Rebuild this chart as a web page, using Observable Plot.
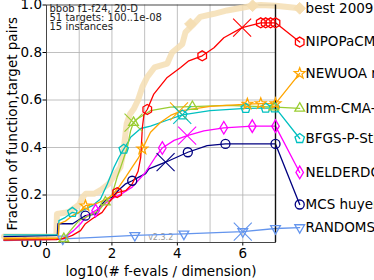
<!DOCTYPE html>
<html><head><meta charset="utf-8">
<script src="https://cdn.jsdelivr.net/npm/d3@7"></script>
<script src="https://cdn.jsdelivr.net/npm/@observablehq/plot@0.6"></script>
<style>html,body{margin:0;padding:0;background:#fff;overflow:hidden}</style>
</head><body><div id="chart"></div>
<script>
// ---------------- data ----------------
const names = ["best 2009","NIPOPaCMA","NEWUOA ros","Imm-CMA-ES","BFGS-P-StPt","NELDERDOERR","MCS huyer","RANDOMSEARCH"];

const bestX = [-1.3,0.3,0.32,0.55,0.7,1.0,1.1,1.2,1.45,1.65,1.9,2.06,2.26,2.35,2.45,2.55,2.67,2.8,2.93,3.08,3.3,3.69,3.84,4.15,4.25,4.46,4.7,5.12,5.52,6.3,6.55,7.0];
const bestY = [0.025,0.025,0.12,0.125,0.13,0.16,0.19,0.205,0.205,0.22,0.247,0.28,0.317,0.38,0.5,0.54,0.563,0.6,0.655,0.697,0.737,0.753,0.80,0.835,0.886,0.914,0.95,0.963,0.977,0.997,1.0,0.997];

const nipoX = [-1.3,0.3,0.6,0.79,1.04,1.19,1.4,1.7,1.96,2.16,2.42,2.62,2.8,2.88,2.93,2.98,3.08,3.28,3.69,4.1,4.35,4.76,5.12,5.42,5.98,6.55,7.0];
const nipoY = [0.01,0.012,0.02,0.03,0.05,0.079,0.1,0.127,0.177,0.21,0.218,0.246,0.3,0.358,0.484,0.54,0.56,0.625,0.695,0.737,0.765,0.786,0.82,0.862,0.905,0.925,0.925];

const newuX = [-1.3,0.36,0.38,0.58,0.79,0.99,1.19,1.5,1.75,2.0,2.21,2.42,2.62,2.82,2.93,3.18,3.49,3.79,4.15,5.0,6.14,6.55,7.0];
const newuY = [0.018,0.018,0.079,0.09,0.113,0.127,0.155,0.163,0.177,0.198,0.233,0.275,0.317,0.358,0.394,0.464,0.506,0.535,0.555,0.573,0.583,0.585,0.585];

const immX = [-1.3,0.53,0.73,0.99,1.3,1.6,1.8,2.0,2.16,2.3,2.47,2.57,2.66,2.77,3.18,3.79,4.46,5.5,7.0];
const immY = [0.012,0.016,0.05,0.092,0.113,0.134,0.17,0.2,0.275,0.33,0.4,0.47,0.505,0.52,0.555,0.57,0.572,0.577,0.57];

const bfgsX = [-1.3,0.36,0.38,0.58,0.79,0.95,1.09,1.4,1.65,1.86,2.06,2.21,2.36,2.52,2.57,2.88,3.18,3.79,4.15,5.0,6.09,6.7,7.0];
const bfgsY = [0.032,0.032,0.092,0.106,0.127,0.122,0.134,0.155,0.183,0.246,0.316,0.358,0.393,0.428,0.443,0.48,0.49,0.52,0.537,0.555,0.565,0.566,0.567];

const neldX = [-1.3,0.5,0.63,0.83,1.04,1.24,1.5,1.75,2.0,2.3,2.62,3.03,3.33,3.54,3.9,4.3,4.81,5.42,6.29,7.0];
const neldY = [0.012,0.015,0.03,0.05,0.079,0.113,0.134,0.16,0.185,0.205,0.233,0.296,0.36,0.398,0.43,0.45,0.47,0.483,0.49,0.49];

const mcsX = [-1.3,0.33,0.35,0.8,1.04,1.19,1.5,1.65,1.86,2.0,2.2,2.42,2.62,2.82,3.03,3.13,3.64,4.32,4.91,5.47,7.0];
const mcsY = [0.025,0.03,0.079,0.079,0.1,0.113,0.12,0.155,0.185,0.19,0.22,0.247,0.26,0.275,0.29,0.31,0.338,0.38,0.408,0.415,0.415];

const randX = [-1.3,0,0.5,1.5,2.7,4.2,6.0,7.0];
const randY = [0.008,0.012,0.015,0.022,0.03,0.036,0.046,0.059];

// marker positions along each curve
const bestMkX = [4.4,6.3];            const bestMkY = [0.92,0.997];
const nipoMkX = [2.16,3.08,4.76,6.55,6.7,6.85,7.0]; const nipoMkY = [0.21,0.56,0.786,0.925,0.925,0.925,0.925];
const newuMkX = [1.19,2.93,6.14,6.55,7.0];          const newuMkY = [0.155,0.394,0.583,0.585,0.585];
const immMkX  = [0.53,1.8,2.66,4.46,6.95];          const immMkY  = [0.016,0.17,0.505,0.572,0.57];
const bfgsMkX = [0.79,2.36,4.15,6.09,6.7,6.97];     const bfgsMkY = [0.127,0.393,0.537,0.565,0.566,0.567];
const neldMkX = [1.5,3.54,5.42,6.29,7.0];           const neldMkY = [0.134,0.398,0.483,0.49,0.49];
const mcsMkX  = [1.19,2.62,4.32,5.47,7.0];          const mcsMkY  = [0.113,0.26,0.38,0.415,0.415];
const randMkX = [0.5,2.7,4.2,6.0,7.0];              const randMkY = [0.015,0.03,0.036,0.046,0.059];

// big "x" markers
const crossSeries = [1,2,3,4,5,6,7];
const crossX = [5.98,4.05,2.66,4.15,4.3,3.64,6.0];
const crossY = [0.905,0.552,0.505,0.537,0.45,0.338,0.046];

// legend label heights (fraction)
const labelY = [0.986,0.844,0.712,0.565,0.438,0.295,0.160,0.063];

const xTicks = [0,2,4,6];
const yTicks = [0,0.2,0.4,0.6,0.8,1.0];
const infoLines = ["bbob f1-f24, 20-D","51 targets: 100..1e-08","15 instances"];
const versionText = "v2.3.2";
const xLabel = "log10(# f-evals / dimension)";
const yLabel = "Fraction of function,target pairs";

// ---------------- styles ----------------
const colors = ["#f5deb3","#ff0000","#ffa500","#9acd32","#00c0c0","#ff00ff","#000080","#6495ed"];

function polySym(n, rot, scale) {
  return {draw(ctx, size) {
    const r = Math.sqrt(size / Math.PI) * scale;
    for (let i = 0; i < n; i++) {
      const a = rot + 2 * Math.PI * i / n;
      const px = r * Math.sin(a), py = -r * Math.cos(a);
      if (i) ctx.lineTo(px, py); else ctx.moveTo(px, py);
    }
    ctx.closePath();
  }};
}
const starSym = {draw(ctx, size) {
  const r = Math.sqrt(size / Math.PI) * 1.25, ri = r * 0.42;
  for (let i = 0; i < 10; i++) {
    const a = Math.PI * i / 5, rr = i % 2 ? ri : r;
    const px = rr * Math.sin(a), py = -rr * Math.cos(a);
    if (i) ctx.lineTo(px, py); else ctx.moveTo(px, py);
  }
  ctx.closePath();
}};
const circleSym = {draw(ctx, size) { const r = Math.sqrt(size / Math.PI); ctx.moveTo(r, 0); ctx.arc(0, 0, r, 0, 2 * Math.PI); }};
const thinDiamond = {draw(ctx, size) { const r = Math.sqrt(size / Math.PI) * 1.4; ctx.moveTo(0, -r); ctx.lineTo(0.6 * r, 0); ctx.lineTo(0, r); ctx.lineTo(-0.6 * r, 0); ctx.closePath(); }};
const wideDiamond = {draw(ctx, size) { const r = Math.sqrt(size / Math.PI) * 1.3; ctx.moveTo(0, -r); ctx.lineTo(r, 0); ctx.lineTo(0, r); ctx.lineTo(-r, 0); ctx.closePath(); }};
const xSym = {draw(ctx, size) { const r = Math.sqrt(size / Math.PI); ctx.moveTo(-r, -r); ctx.lineTo(r, r); ctx.moveTo(r, -r); ctx.lineTo(-r, r); }};
const symbols = [wideDiamond, polySym(6, 0, 1.1), starSym, polySym(3, 0, 1.25), polySym(5, 0, 1.1), thinDiamond, circleSym, polySym(3, Math.PI, 1.25)];

const LEG_X = 7.74, TXT_X = 7.92;

const seriesX = [bestX, nipoX, newuX, immX, bfgsX, neldX, mcsX, randX];
const seriesY = [bestY, nipoY, newuY, immY, bfgsY, neldY, mcsY, randY];
const mkX = [bestMkX, nipoMkX, newuMkX, immMkX, bfgsMkX, neldMkX, mcsMkX, randMkX];
const mkY = [bestMkY, nipoMkY, newuMkY, immMkY, bfgsMkY, neldMkY, mcsMkY, randMkY];

const lineMarks = [], dotMarks = [];
seriesX.forEach((xs, k) => {
  const pts = xs.map((x, i) => ({x, y: seriesY[k][i]}));
  pts.push({x: LEG_X, y: labelY[k]});
  const mk = mkX[k].map((x, i) => ({x, y: mkY[k][i]}));
  mk.push({x: LEG_X, y: labelY[k]});
  if (k === 0) {
    lineMarks.push(Plot.line(pts, {x: "x", y: "y", stroke: colors[0], strokeWidth: 6, strokeOpacity: 0.85, strokeLinejoin: "round"}));
    dotMarks.push(Plot.dot(mk, {x: "x", y: "y", symbol: symbols[0], r: 4.5, fill: colors[0], stroke: colors[0], strokeWidth: 1}));
  } else {
    lineMarks.push(Plot.line(pts, {x: "x", y: "y", stroke: colors[k], strokeWidth: 1.3}));
    dotMarks.push(Plot.dot(mk, {x: "x", y: "y", symbol: symbols[k], r: 4.5, fill: "none", stroke: colors[k], strokeWidth: 1.3}));
  }
});
const orderedLines = [lineMarks[0], ...lineMarks.slice(1).reverse()];
const orderedDots = [dotMarks[0], ...dotMarks.slice(1).reverse()];

const crosses = crossX.map((x, i) => ({x, y: crossY[i], c: colors[crossSeries[i]]}));
const labels = names.map((n, k) => ({x: TXT_X, y: labelY[k], n}));
const info = infoLines.map((t, i) => ({t, i}));

const chart = Plot.plot({
  width: 374, height: 280,
  marginLeft: 46, marginRight: 99, marginTop: 4.5, marginBottom: 38,
  x: {domain: [0, 7]},
  y: {domain: [0, 1]},
  style: {fontFamily: "DejaVu Sans, sans-serif", fontSize: "13.5px", background: "white", color: "black"},
  marks: [
    Plot.gridX(d3.range(1, 7), {stroke: "#b0b0b0", strokeOpacity: 1, strokeWidth: 0.8}),
    Plot.gridY([0.2, 0.4, 0.6, 0.8], {stroke: "#b0b0b0", strokeOpacity: 1, strokeWidth: 0.8}),
    Plot.axisX(xTicks, {tickSize: 3.5, tickPadding: 2.5, fontSize: 13.5, label: null, tickFormat: d3.format("d")}),
    Plot.axisY(yTicks, {tickSize: 3.5, tickPadding: 1, fontSize: 13.5, label: null, tickFormat: d3.format(".1f")}),
    Plot.frame({stroke: "#333", strokeWidth: 0.9}),
    ...info.map(d => Plot.text([d.t], {frameAnchor: "top-left", dx: 3, dy: 3.8 + 9.2 * d.i, lineAnchor: "middle", textAnchor: "start", fontSize: 10, fill: "#222"})),
    Plot.text([versionText], {x: () => 3.49, y: () => 0.023, fontSize: 8, fill: "#999"}),
    ...orderedLines,
    Plot.ruleX([7], {stroke: "#111", strokeWidth: 1.4}),
    ...orderedDots,
    Plot.dot(crosses, {x: "x", y: "y", stroke: "c", symbol: xSym, r: 9, strokeWidth: 1.1}),
    Plot.text(labels, {x: "x", y: "y", text: "n", textAnchor: "start", fontSize: 13.5, fill: "black"}),
    Plot.text([xLabel], {frameAnchor: "bottom", dy: 29, lineAnchor: "middle", textAnchor: "middle", fontSize: 13.5, fill: "black"}),
    Plot.text([yLabel], {frameAnchor: "left", dx: -34, rotate: -90, lineAnchor: "middle", textAnchor: "middle", fontSize: 13.5, fill: "black"})
  ]
});
document.getElementById("chart").appendChild(chart);
</script></body></html>
